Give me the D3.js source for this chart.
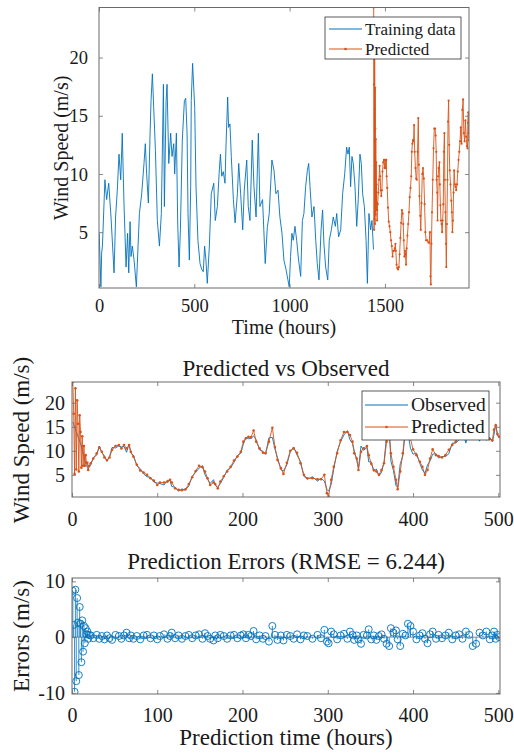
<!DOCTYPE html>
<html>
<head>
<meta charset="utf-8">
<script src="https://cdn.jsdelivr.net/npm/d3@7"></script>
<style>
  body { margin: 0; background: #fff; }
  svg text { font-family: "Liberation Serif", Tinos, "Times New Roman", "DejaVu Serif", "Noto Serif", serif; fill: #1a1a1a; }
</style>
</head>
<body>
<svg id="fig" width="514" height="753"></svg>
<script>
// ---- data ----
// training wind speed (hours, m/s), vertices
var trainHours = [
  1, 10, 14, 18, 31, 40, 51, 63, 79, 87,
  96, 105, 114, 122, 131, 142, 150, 156, 163, 168,
  175, 184, 196, 212, 224, 236, 243, 250, 259, 268,
  273, 280, 287, 296, 306, 317, 327, 338, 343, 352,
  357, 366, 376, 383, 392, 397, 406, 413, 420, 427,
  437, 448, 455, 462, 467, 474, 481, 484, 491, 502,
  509, 519, 530, 539, 547, 554, 561, 568, 579, 589,
  602, 610, 621, 630, 637, 644, 652, 661, 666, 675,
  680, 687, 694, 705, 714, 726, 733, 743, 754, 762,
  775, 783, 792, 804, 813, 824, 836, 844, 858, 872,
  883, 893, 907, 918, 928, 939, 949, 960, 970, 981,
  991, 998, 1005, 1012, 1019, 1028, 1037, 1047, 1058, 1067,
  1075, 1084, 1093, 1100, 1107, 1117, 1128, 1137, 1145, 1154,
  1165, 1173, 1180, 1189, 1200, 1208, 1219, 1229, 1240, 1247,
  1257, 1268, 1278, 1289, 1299, 1306, 1313, 1320, 1327, 1334,
  1343, 1352, 1360, 1369, 1376, 1383, 1392, 1401, 1408, 1416,
  1425, 1432, 1440
];
var trainSpeed = [
  4.9, 0.3, 3.2, 3.8, 9.5, 7.8, 9.2, 6.3, 1.5, 6.3,
  8.6, 11.7, 9.5, 13.5, 7.5, 2.0, 4.9, 1.5, 5.9, 2.9,
  3.8, 2.6, 0.3, 6.6, 8.3, 10.9, 12.6, 10.0, 7.5, 13.5,
  16.3, 18.6, 15.7, 12.0, 6.0, 3.8, 6.6, 17.7, 7.2, 16.3,
  17.7, 10.9, 13.5, 11.5, 12.6, 10.0, 13.5, 5.7, 2.0, 5.2,
  12.9, 16.3, 16.5, 13.5, 6.6, 2.6, 8.9, 16.3, 19.5, 15.7,
  8.9, 4.3, 2.3, 1.8, 1.6, 3.8, 2.6, 0.6, 3.8, 8.3,
  9.2, 6.0, 7.2, 10.0, 11.7, 9.8, 10.2, 9.2, 12.3, 16.6,
  14.0, 14.3, 11.5, 7.8, 5.8, 8.3, 10.9, 8.3, 5.2, 8.6,
  11.2, 7.2, 6.0, 12.9, 8.9, 6.3, 13.5, 7.2, 7.8, 2.3,
  5.4, 6.6, 11.2, 10.3, 8.3, 8.6, 6.3, 4.9, 2.6, 1.8,
  0.9, 0.3, 2.9, 4.9, 4.3, 5.5, 4.3, 2.6, 1.2, 6.0,
  6.6, 8.9, 10.3, 10.9, 8.9, 6.3, 7.2, 4.3, 2.3, 0.9,
  5.2, 6.9, 4.0, 2.0, 0.9, 4.3, 5.2, 6.3, 5.5, 6.6,
  4.6, 5.2, 8.3, 10.0, 12.3, 11.7, 12.3, 8.9, 11.5, 10.9,
  8.9, 5.5, 7.8, 11.7, 10.9, 8.3, 7.2, 4.3, 0.6, 6.6,
  5.2, 6.0, 3.5
];

// prediction window: hour index after the end of training
var predStart = 1440;
var predHours = [
  1, 2, 3, 4, 5, 6, 7, 8, 9, 10,
  11, 12, 13, 14, 15, 16, 17, 18, 19, 20,
  22, 25, 29, 32, 35, 38, 41, 44, 47, 51,
  55, 58, 61, 64, 67, 69, 72, 76, 80, 84,
  88, 92, 96, 100, 103, 108, 112, 115, 117, 121,
  125, 129, 133, 137, 141, 145, 149, 153, 156, 159,
  162, 166, 168, 171, 174, 178, 182, 186, 190, 194,
  198, 201, 204, 207, 210, 213, 216, 220, 224, 227,
  231, 235, 238, 241, 245, 248, 252, 256, 260, 264,
  268, 272, 276, 282, 288, 292, 296, 299, 301, 304,
  307, 311, 315, 319, 323, 326, 329, 331, 334, 336,
  339, 342, 346, 348, 351, 354, 357, 360, 363, 366,
  369, 372, 374, 377, 380, 382, 385, 388, 391, 394,
  397, 400, 404, 408, 411, 414, 417, 420, 423, 427,
  430, 434, 438, 442, 446, 450, 454, 458, 462, 466,
  470, 474, 478, 482, 486, 490, 493, 495, 497, 499,
  501
];
var predSpeed = [
  24.3, 17.7, 5.2, 23.0, 6.1, 20.5, 15.6, 5.7, 17.4, 13.9,
  6.5, 13.0, 6.9, 11.0, 6.9, 9.1, 7.5, 7.5, 6.0, 6.9,
  7.4, 8.4, 9.5, 10.7, 9.8, 8.6, 8.1, 8.6, 10.2, 11.0,
  11.2, 10.5, 11.2, 10.5, 11.2, 9.8, 8.8, 7.1, 5.9, 5.5,
  5.0, 4.3, 3.8, 2.9, 3.4, 3.4, 3.6, 4.0, 3.4, 2.2,
  1.9, 1.8, 2.0, 3.1, 4.5, 5.8, 6.9, 6.6, 5.7, 4.3,
  2.9, 3.4, 3.1, 2.2, 3.6, 4.7, 5.7, 6.7, 8.0, 8.8,
  9.8, 11.9, 12.6, 12.9, 12.8, 14.2, 11.9, 10.5, 9.6, 9.5,
  11.9, 14.8, 10.8, 8.1, 6.4, 5.2, 7.5, 10.0, 10.5, 9.6,
  7.4, 5.0, 4.3, 4.3, 4.1, 4.1, 5.0, 1.2, 0.5, 4.0,
  6.7, 9.5, 12.2, 13.9, 13.9, 13.3, 11.9, 9.5, 8.4, 6.0,
  9.8, 10.5, 11.0, 9.1, 7.3, 6.0, 5.7, 5.0, 6.0, 7.4,
  11.9, 13.5, 9.5, 6.7, 4.0, 2.0, 5.7, 9.5, 14.5, 16.3,
  12.5, 10.3, 9.1, 7.7, 6.7, 5.0, 6.0, 8.4, 10.3, 9.1,
  8.9, 8.6, 9.1, 10.2, 11.2, 11.9, 12.8, 14.0, 12.6, 15.5,
  16.4, 13.5, 12.8, 14.6, 13.2, 12.4, 12.2, 14.4, 15.3, 13.5,
  12.9
];
var obsSpeed = [
  16.0, 15.5, 15.0, 14.5, 14.0, 13.5, 13.0, 12.5, 12.0, 11.5,
  11.0, 10.0, 9.5, 9.0, 8.0, 7.5, 7.0, 6.5, 6.3, 6.5,
  7.1, 8.6, 9.1, 11.0, 9.6, 9.0, 7.8, 8.8, 10.7, 10.6,
  11.0, 10.8, 10.9, 9.7, 11.4, 9.5, 9.1, 6.9, 6.3, 5.2,
  4.6, 4.5, 3.5, 3.3, 3.2, 2.9, 3.9, 3.8, 2.6, 2.4,
  1.6, 2.1, 1.8, 2.7, 4.7, 5.5, 6.4, 6.9, 5.0, 4.1,
  3.2, 4.0, 2.8, 2.4, 3.2, 4.5, 6.0, 6.4, 7.6, 9.0,
  9.5, 11.4, 12.8, 12.5, 12.6, 13.1, 12.3, 10.2, 9.9, 9.3,
  12.7, 12.8, 10.4, 8.6, 6.1, 5.8, 7.1, 9.8, 10.8, 9.1,
  7.8, 4.7, 4.1, 4.6, 3.7, 4.3, 3.7, 2.0, 1.6, 3.0,
  6.2, 9.9, 11.9, 13.3, 14.2, 12.3, 11.5, 10.0, 8.1, 6.4,
  11.0, 10.1, 10.7, 7.7, 7.7, 5.7, 6.2, 4.8, 5.5, 7.7,
  13.1, 15.1, 7.9, 5.9, 2.8, 2.4, 7.3, 8.9, 14.2, 13.9,
  10.5, 9.3, 9.5, 7.4, 6.0, 5.3, 7.1, 7.9, 9.3, 9.4,
  8.5, 8.8, 8.8, 9.4, 11.6, 11.6, 12.3, 14.3, 11.6, 15.1,
  18.0, 14.7, 12.0, 14.3, 12.2, 12.8, 11.9, 13.4, 15.6, 13.1,
  12.9
];
var errors = [
  8.3, 2.2, -9.8, 8.5, -7.9, 7.0, 2.6, -6.8, 5.4, 2.4,
  -4.5, 3.0, -2.6, 2.0, -1.1, 1.6, 0.5, 1.0, -0.3, 0.4,
  0.3, -0.2, 0.4, -0.3, 0.2, -0.4, 0.3, -0.2, -0.5, 0.4,
  0.2, -0.3, 0.3, 0.8, -0.2, 0.3, -0.3, 0.2, -0.4, 0.3,
  0.4, -0.2, 0.3, -0.4, 0.2, 0.5, -0.3, 0.2, 0.8, -0.2,
  0.3, -0.3, 0.2, 0.4, -0.2, 0.3, 0.5, -0.3, 0.7, 0.2,
  -0.3, -0.6, 0.3, -0.2, 0.4, 0.2, -0.3, 0.3, 0.4, -0.2,
  0.3, 0.5, -0.2, 0.4, 0.2, 1.1, -0.4, 0.3, -0.3, 0.2,
  -0.8, 2.0, 0.4, -0.5, 0.3, -0.6, 0.4, 0.2, -0.3, 0.5,
  -0.4, 0.3, 0.2, -0.3, 0.4, -0.2, 1.3, -0.8, -1.1, 1.0,
  0.5, -0.4, 0.3, 0.6, -0.3, 1.0, 0.4, -0.5, 0.3, -0.4,
  -1.2, 0.4, 0.3, 1.4, -0.4, 0.3, -0.5, 0.2, 0.5, -0.3,
  -1.2, -1.6, 1.6, 0.8, 1.2, -0.4, -1.6, 0.6, 0.3, 2.4,
  2.0, 1.0, -0.4, 0.3, 0.7, -0.3, -1.1, 0.5, 1.0, -0.3,
  0.4, -0.2, 0.3, 0.8, -0.4, 0.3, 0.5, -0.3, 1.0, 0.4,
  -1.6, -1.2, 0.8, 0.3, 1.0, -0.4, 0.3, 1.0, -0.3, 0.4,
  0.0
];

var topXTicks = [0, 500, 1000, 1500];
var speedTicks = [5, 10, 15, 20];
var hourTicks = [0, 100, 200, 300, 400, 500];
var errTicks = [-10, 0, 10];
var rmseText = "6.244";

// ---- style ----
var BLUE = "#0072BD", ORANGE = "#D95319", BOXC = "#6a6a6a", TXT = "#1a1a1a";
var SERIF = '"Liberation Serif", Tinos, "Times New Roman", "DejaVu Serif", "Noto Serif", serif';

var svg = d3.select("#fig");

var train = trainHours.map(function(h, i) { return {h: h, v: trainSpeed[i]}; });
var pred = predHours.map(function(h, i) { return {h: h, v: predSpeed[i]}; });
var obs = predHours.map(function(h, i) { return {h: h, v: obsSpeed[i]}; });
var errs = predHours.map(function(h, i) { return {h: h, v: errors[i]}; });

// build one axes area with a clip region
function panel(id, box, xDomain, yDomain) {
  var x = d3.scaleLinear().domain(xDomain).range([box.left, box.right]);
  var y = d3.scaleLinear().domain(yDomain).range([box.bottom, box.top]);
  svg.append("clipPath").attr("id", id)
    .append("rect")
    .attr("x", box.left).attr("y", box.top)
    .attr("width", box.right - box.left).attr("height", box.bottom - box.top);
  var plot = svg.append("g").attr("clip-path", "url(#" + id + ")");
  return {x: x, y: y, box: box, plot: plot};
}

// inward ticks on all four sides, labels bottom + left, then the box
function frame(p, xTicks, yTicks, cfg) {
  var b = p.box, tl = 4;
  function tidy(g) {
    g.attr("font-family", null).attr("font-size", null).attr("color", BOXC);
    g.select(".domain").remove();
    g.selectAll("line").attr("stroke-width", 0.8);
  }
  var gb = svg.append("g").attr("transform", "translate(0," + b.bottom + ")")
    .call(d3.axisBottom(p.x).tickValues(xTicks).tickSize(-tl).tickFormat(String));
  tidy(gb);
  gb.selectAll("text").attr("y", cfg.xLabelY).attr("dy", null)
    .style("font-family", SERIF).style("font-size", cfg.tick + "px").style("fill", TXT);

  var gt = svg.append("g").attr("transform", "translate(0," + b.top + ")")
    .call(d3.axisTop(p.x).tickValues(xTicks).tickSize(-tl).tickFormat(""));
  tidy(gt);

  var gl = svg.append("g").attr("transform", "translate(" + b.left + ",0)")
    .call(d3.axisLeft(p.y).tickValues(yTicks).tickSize(-tl).tickFormat(String));
  tidy(gl);
  gl.selectAll("text").attr("x", -cfg.yPad).attr("dy", "0.33em")
    .style("font-family", SERIF).style("font-size", cfg.tick + "px").style("fill", TXT);

  var gr = svg.append("g").attr("transform", "translate(" + b.right + ",0)")
    .call(d3.axisRight(p.y).tickValues(yTicks).tickSize(-tl).tickFormat(""));
  tidy(gr);

  svg.append("rect")
    .attr("x", b.left).attr("y", b.top)
    .attr("width", b.right - b.left).attr("height", b.bottom - b.top)
    .attr("fill", "none").attr("stroke", BOXC).attr("stroke-width", 1);
}

function label(text, x, y, size, rotate) {
  var t = svg.append("text").text(text)
    .attr("text-anchor", "middle")
    .style("font-family", SERIF)
    .style("font-size", size + "px");
  if (rotate) t.attr("transform", "translate(" + x + "," + y + ") rotate(-90)");
  else t.attr("x", x).attr("y", y);
  return t;
}

function legend(box, rows, size, s0, s1, tx) {
  svg.append("rect")
    .attr("x", box.x0).attr("y", box.y0)
    .attr("width", box.x1 - box.x0).attr("height", box.y1 - box.y0)
    .attr("fill", "#fff").attr("stroke", "#333").attr("stroke-width", 0.8);
  rows.forEach(function(r) {
    svg.append("line").attr("x1", s0).attr("x2", s1).attr("y1", r.y).attr("y2", r.y)
      .attr("stroke", r.color).attr("stroke-width", 1);
    if (r.dot) {
      svg.append("circle").attr("cx", (s0 + s1) / 2).attr("cy", r.y).attr("r", 1.3)
        .attr("fill", r.color);
    }
    svg.append("text").text(r.name).attr("x", tx).attr("y", r.y)
      .attr("dy", "0.33em").style("font-family", SERIF).style("font-size", size + "px");
  });
}

var line = function(p) {
  return d3.line().x(function(d) { return p.x(d.h); }).y(function(d) { return p.y(d.v); });
};

// ---- panel 1: training + predicted ----
var p1 = panel("c1", {left: 99, right: 469, top: 7.5, bottom: 288}, [0, 1941], [0.2, 24.3]);
var predTop = pred.map(function(d) { return {h: predStart + d.h, v: d.v}; });
p1.plot.append("path").datum(train).attr("d", line(p1))
  .attr("fill", "none").attr("stroke", BLUE).attr("stroke-width", 0.9);
p1.plot.append("path").datum(predTop).attr("d", line(p1))
  .attr("fill", "none").attr("stroke", ORANGE).attr("stroke-width", 0.9);
p1.plot.selectAll("circle.pt").data(predTop).enter().append("circle")
  .attr("cx", function(d) { return p1.x(d.h); })
  .attr("cy", function(d) { return p1.y(d.v); })
  .attr("r", 1.1).attr("fill", ORANGE);
frame(p1, topXTicks, speedTicks, {tick: 18.5, xLabelY: 24, yPad: 11});
label("Time (hours)", 284, 334, 20);
label("Wind Speed (m/s)", 67.5, 148, 20, true);
legend({x0: 325, y0: 17, x1: 461, y1: 59}, [
  {name: "Training data", color: BLUE, y: 29},
  {name: "Predicted", color: ORANGE, y: 49, dot: true}
], 17, 329, 362, 365);

// ---- panel 2: predicted vs observed ----
var p2 = panel("c2", {left: 72, right: 500, top: 382, bottom: 497}, [0, 502], [0.4, 24.3]);
p2.plot.append("path").datum(obs).attr("d", line(p2))
  .attr("fill", "none").attr("stroke", BLUE).attr("stroke-width", 0.9);
p2.plot.append("path").datum(pred).attr("d", line(p2))
  .attr("fill", "none").attr("stroke", ORANGE).attr("stroke-width", 0.9);
p2.plot.selectAll("circle.pt").data(pred).enter().append("circle")
  .attr("cx", function(d) { return p2.x(d.h); })
  .attr("cy", function(d) { return p2.y(d.v); })
  .attr("r", 1.3).attr("fill", ORANGE);
frame(p2, hourTicks, speedTicks, {tick: 20, xLabelY: 29, yPad: 7});
label("Predicted vs Observed", 286, 376, 23);
label("Wind Speed (m/s)", 28.5, 440, 23, true);
legend({x0: 362, y0: 391, x1: 489, y1: 440}, [
  {name: "Observed", color: BLUE, y: 405},
  {name: "Predicted", color: ORANGE, y: 427, dot: true}
], 19.5, 365, 408, 411);

// ---- panel 3: stem plot of errors ----
var p3 = panel("c3", {left: 72, right: 500, top: 578, bottom: 694}, [0, 502], [-10.2, 10.6]);
p3.plot.append("line")
  .attr("x1", p3.box.left).attr("x2", p3.box.right)
  .attr("y1", p3.y(0)).attr("y2", p3.y(0))
  .attr("stroke", "#444").attr("stroke-width", 0.6);
p3.plot.selectAll("line.stem").data(errs).enter().append("line")
  .attr("class", "stem")
  .attr("x1", function(d) { return p3.x(d.h); }).attr("x2", function(d) { return p3.x(d.h); })
  .attr("y1", p3.y(0)).attr("y2", function(d) { return p3.y(d.v); })
  .attr("stroke", BLUE).attr("stroke-width", 0.8);
p3.plot.selectAll("circle.mk").data(errs).enter().append("circle")
  .attr("class", "mk")
  .attr("cx", function(d) { return p3.x(d.h); })
  .attr("cy", function(d) { return p3.y(d.v); })
  .attr("r", 3.5).attr("fill", "none").attr("stroke", BLUE).attr("stroke-width", 0.9);
frame(p3, hourTicks, errTicks, {tick: 20, xLabelY: 28, yPad: 7});
label("Prediction Errors (RMSE = " + rmseText + ")", 286, 569, 23);
label("Errors (m/s)", 28.5, 636, 23, true);
label("Prediction time (hours)", 286, 745, 23);
</script>
</body>
</html>
